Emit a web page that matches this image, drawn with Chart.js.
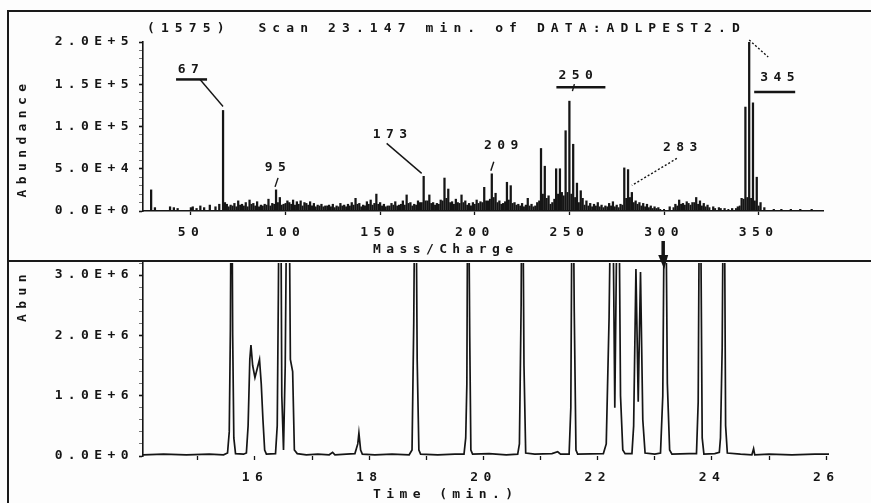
<!DOCTYPE html>
<html>
<head>
<meta charset="utf-8">
<script src="https://cdn.jsdelivr.net/npm/chart.js@4.4.1/dist/chart.umd.min.js"></script>
<style>
  html, body { margin: 0; padding: 0; background: #fff; }
  #page { position: relative; width: 871px; height: 503px; overflow: hidden; background: #fdfdfd; }
  .rule { position: absolute; background: #1a1a1a; }
  canvas { position: absolute; left: 0; }
</style>
</head>
<body>
<div id="page">
  <div class="rule" style="left:7px; top:10px; width:864px; height:2px"></div>
  <div class="rule" style="left:7px; top:10px; width:2px; height:493px"></div>
  <div class="rule" style="left:7px; top:260px; width:864px; height:2px"></div>
  <canvas id="spectrum" style="top:0" width="871" height="262"></canvas>
  <canvas id="tic" style="top:240px" width="871" height="263"></canvas>
</div>
<script>
// scan header
const scanNumber = 1575;
const scanTime = 23.147;
const dataFile = 'DATA:ADLPEST2.D';

// mass spectrum of the scan (m/z, abundance)
const massCharge = [
  29, 31, 39, 41, 43, 50, 51, 53, 55, 57, 60, 63, 65,
  67, 68, 69, 71, 73, 75, 77, 79, 81, 83, 85, 87, 89, 91, 93, 95, 97, 99,
  101, 102, 104, 106, 108, 110, 111, 113, 115, 117, 119, 121, 123, 125, 127, 129,
  131, 133, 135, 137, 139, 141, 143, 145, 147, 148, 150, 152, 154, 156, 158, 160,
  162, 164, 166, 168, 170, 171, 173, 175, 176, 178, 180, 182, 184, 186, 188, 190,
  191, 193, 195, 197, 199, 201, 203, 205, 207, 209, 211, 213, 215, 217, 219, 221,
  223, 225, 227, 228, 230, 232, 233, 235, 237, 239, 241, 243, 245, 246, 248, 250,
  252, 254, 256, 257, 259, 261, 263, 265, 267, 269, 271, 273, 275, 277, 279, 281,
  283, 285, 287, 289, 291, 293, 295, 297, 303, 306, 308, 310, 312, 315, 317, 319,
  321, 323, 326, 329, 332, 336, 339, 341, 343, 345, 347, 349, 351, 353, 358, 362,
  367, 372, 378
];
const abundance = [
  25000, 4000, 5000, 4000, 3000, 4000, 5000, 3000, 6000, 4000, 7000, 5000, 8000,
  119000, 10000, 8000, 7000, 9000, 12000, 8000, 10000, 13000, 9000, 11000, 7000, 8000, 14000, 9000, 25000, 16000, 8000,
  12000, 10000, 13000, 11000, 12000, 10000, 9000, 11000, 9000, 7000, 8000, 6000, 7000, 8000, 6000, 9000,
  7000, 8000, 10000, 15000, 9000, 7000, 11000, 13000, 9000, 20000, 10000, 8000, 6000, 9000, 11000, 7000,
  12000, 19000, 10000, 8000, 12000, 10000, 41000, 12000, 19000, 10000, 9000, 13000, 39000, 26000, 11000, 14000,
  10000, 19000, 12000, 9000, 10000, 13000, 11000, 28000, 12000, 44000, 21000, 12000, 9000, 34000, 30000, 10000,
  8000, 9000, 7000, 15000, 8000, 6000, 10000, 74000, 53000, 18000, 10000, 50000, 50000, 22000, 95000, 130000,
  79000, 33000, 24000, 15000, 12000, 9000, 8000, 10000, 7000, 6000, 9000, 11000, 7000, 8000, 51000, 49000,
  22000, 12000, 10000, 9000, 8000, 6000, 5000, 4000, 5000, 8000, 13000, 9000, 11000, 10000, 16000, 12000,
  9000, 7000, 5000, 4000, 3000, 3000, 5000, 15000, 123000, 200000, 128000, 40000, 10000, 4000, 2000, 2000,
  2000, 2000, 2000
];
// small ions between the main ones (the "grass" along the baseline)
const minorMass = [
  70, 72, 74, 76, 78, 80, 82, 84, 86, 88, 90, 92, 94, 96, 98, 100, 103, 105, 107, 109,
  112, 114, 116, 118, 120, 122, 124, 126, 128, 130, 132, 134, 136, 138, 140, 142, 144, 146,
  149, 151, 153, 155, 157, 159, 161, 163, 165, 167, 169, 172, 174, 177, 179, 181, 183, 185,
  187, 189, 192, 194, 196, 198, 200, 202, 204, 206, 208, 210, 212, 214, 216, 218, 220, 222,
  224, 226, 229, 231, 234, 236, 238, 240, 242, 244, 247, 249, 251, 253, 255, 258, 260, 262,
  264, 266, 268, 270, 272, 274, 276, 278, 280, 282, 284, 286, 288, 290, 292, 294, 296, 298,
  300, 305, 307, 309, 311, 313, 314, 316, 318, 320, 322, 324, 327, 330, 334, 338, 340, 342,
  344, 346, 348, 350
];
const minorAbundance = [
  5000, 6000, 5000, 7000, 6000, 5000, 8000, 6000, 5000, 6000, 7000, 6000, 8000, 10000, 7000, 9000, 8000, 7000, 8000, 6000,
  7000, 6000, 5000, 6000, 5000, 6000, 5000, 4000, 5000, 6000, 5000, 6000, 7000, 8000, 5000, 6000, 8000, 7000,
  8000, 6000, 5000, 6000, 7000, 6000, 8000, 7000, 9000, 6000, 7000, 10000, 12000, 9000, 7000, 8000, 12000, 15000,
  10000, 8000, 9000, 10000, 7000, 6000, 8000, 9000, 10000, 12000, 14000, 16000, 10000, 8000, 11000, 13000, 9000, 7000,
  6000, 5000, 6000, 5000, 12000, 20000, 15000, 8000, 14000, 20000, 18000, 22000, 20000, 16000, 10000, 7000, 6000, 5000,
  6000, 5000, 4000, 5000, 6000, 5000, 4000, 7000, 15000, 16000, 10000, 8000, 6000, 5000, 4000, 3000, 3000, 2000,
  2000, 4000, 6000, 8000, 7000, 9000, 7000, 10000, 8000, 6000, 5000, 4000, 3000, 3000, 2000, 3000, 6000, 14000,
  16000, 15000, 12000, 6000
];
const massTicks = [50, 100, 150, 200, 250, 300, 350];
const abundanceTicks = [0, 50000, 100000, 150000, 200000];
const labelledIons = [67, 95, 173, 209, 250, 283, 345];

// total ion chromatogram (min, abundance)
const retentionTime = [
  14.04, 14.4, 14.8, 15.2, 15.45,
  15.52, 15.55, 15.57, 15.59, 15.61, 15.63, 15.66,
  15.8, 15.85, 15.88, 15.91, 15.93, 15.96, 16.0, 16.04, 16.08, 16.11, 16.14, 16.17, 16.2,
  16.36, 16.39, 16.41, 16.44, 16.47, 16.5, 16.53, 16.58, 16.62, 16.66, 16.69, 16.74,
  16.9, 17.1, 17.3, 17.36, 17.4, 17.6,
  17.75, 17.8, 17.82, 17.85, 17.88,
  18.1, 18.4, 18.7, 18.75, 18.78, 18.81, 18.84, 18.87, 18.9,
  19.2, 19.5, 19.66, 19.69, 19.71, 19.73, 19.76, 19.78, 19.81,
  20.1, 20.4, 20.6, 20.63, 20.66, 20.68, 20.71, 20.74,
  20.9, 21.2, 21.3, 21.35, 21.5, 21.53, 21.56, 21.59, 21.62, 21.65,
  22.1, 22.15, 22.2, 22.25, 22.3, 22.36, 22.4, 22.44, 22.48,
  22.6, 22.63, 22.67, 22.71, 22.75, 22.79, 22.83,
  23.0, 23.1, 23.14, 23.18, 23.22, 23.26, 23.3,
  23.6, 23.73, 23.76, 23.79, 23.83, 23.86,
  24.05, 24.13, 24.15, 24.18, 24.21, 24.24, 24.27,
  24.5, 24.7, 24.73, 24.75, 25.0, 25.4, 25.8, 26.05
];
const totalIon = [
  20000, 30000, 20000, 30000, 20000,
  50000, 400000, 2100000, 6000000, 2000000, 300000, 40000,
  30000, 50000, 500000, 1600000, 1840000, 1500000, 1300000, 1450000, 1600000, 1200000, 600000, 100000, 30000,
  40000, 500000, 2700000, 7000000, 1000000, 100000, 1500000, 7000000, 1600000, 1400000, 100000, 40000,
  20000, 30000, 20000, 60000, 20000, 30000,
  40000, 200000, 380000, 100000, 30000,
  20000, 30000, 20000, 100000, 2200000, 6000000, 1600000, 100000, 30000,
  20000, 30000, 30000, 300000, 1200000, 6000000, 2000000, 100000, 30000,
  40000, 20000, 30000, 200000, 2500000, 6000000, 1500000, 50000,
  30000, 40000, 70000, 30000, 30000, 800000, 6000000, 2400000, 100000, 30000,
  40000, 200000, 2300000, 6000000, 800000, 6000000, 1000000, 100000, 40000,
  40000, 500000, 3100000, 900000, 3050000, 600000, 50000,
  30000, 50000, 1000000, 6000000, 1200000, 100000, 30000,
  40000, 40000, 900000, 6000000, 300000, 30000,
  40000, 60000, 300000, 1800000, 6000000, 500000, 50000,
  30000, 20000, 120000, 20000, 30000, 20000, 30000, 30000
];
const timeTicks = [16, 18, 20, 22, 24, 26];
const ticTicks = [0, 1000000, 2000000, 3000000];

// where each ion label sits, relative to the top of its peak (pixels)
const ionNoteLayout = {
  67:  { dx: -35, dy: -41, bar: [-12, 19, 10], lead: [-23, -31, 0, -4] },
  95:  { dx: -1, dy: -22, lead: [2, -12, -1, -3] },
  173: { dx: -34, dy: -42, lead: [-37, -33, -2, -3] },
  209: { dx: 9, dy: -28, lead: [2, -12, -1, -3] },
  250: { dx: 6, dy: -26, bar: [-19, 30, 12], lead: [5, -17, 3, -10] },
  283: { dx: 48, dy: -45, lead: [45, -34, 0, -7], dotted: true },
  345: { dx: 28, dy: 36, bar: [-23, 18, 14], lead: [0, -2, 19, 15], dotted: true }
};

const INK = '#151515';
const SPACING = '5.4px';
const FONT = "bold 13px 'DejaVu Sans Mono', monospace";

Chart.defaults.font.family = "'DejaVu Sans Mono', monospace";
Chart.defaults.font.size = 13;
Chart.defaults.font.weight = 'bold';
Chart.defaults.color = INK;
Chart.defaults.animation = false;

function sciLabel(v) {
  return v.toExponential(1).toUpperCase();
}

function steps(from, to, step) {
  const out = [];
  const n = Math.round((to - from) / step);
  for (let k = 0; k <= n; k++) out.push(from + k * step);
  return out;
}

// plotter-style wide lettering for every text on the canvas
const wideText = {
  id: 'wideText',
  beforeLayout(chart) { chart.ctx.letterSpacing = SPACING; },
  beforeDraw(chart) { chart.ctx.letterSpacing = SPACING; }
};

function put(ctx, text, x, y, align, rotate, spacing) {
  ctx.save();
  ctx.font = FONT;
  ctx.fillStyle = INK;
  ctx.textBaseline = 'middle';
  ctx.textAlign = align || 'left';
  if (spacing) ctx.letterSpacing = spacing;
  ctx.translate(x, y);
  if (rotate) ctx.rotate(-Math.PI / 2);
  ctx.fillText(text, 0, 0);
  ctx.restore();
}

function line(ctx, x1, y1, x2, y2, width, dotted) {
  ctx.save();
  ctx.strokeStyle = INK;
  ctx.lineWidth = width;
  if (dotted) ctx.setLineDash([2, 2]);
  ctx.beginPath();
  ctx.moveTo(x1, y1);
  ctx.lineTo(x2, y2);
  ctx.stroke();
  ctx.restore();
}

const spectrumNotes = {
  id: 'spectrumNotes',
  afterDraw(chart) {
    const ctx = chart.ctx;
    const x = chart.scales.x, y = chart.scales.y;
    put(ctx, '(' + scanNumber + ')  Scan ' + scanTime + ' min. of ' + dataFile, 147, 29, 'left', false, '6.1px');
    put(ctx, 'Abundance', 23, 138, 'center', true);
    put(ctx, 'Mass/Charge', 373, 250);
    labelledIons.forEach(ion => {
      const lay = ionNoteLayout[ion];
      const px = x.getPixelForValue(ion);
      const py = y.getPixelForValue(abundance[massCharge.indexOf(ion)]);
      const lx = px + lay.dx, ly = py + lay.dy;
      put(ctx, String(ion), lx + 3, ly, 'center');
      if (lay.bar) line(ctx, lx + lay.bar[0], ly + lay.bar[2], lx + lay.bar[1], ly + lay.bar[2], 2.5);
      const l = lay.lead;
      line(ctx, px + l[0], py + l[1], px + l[2], py + l[3], 1.4, lay.dotted);
    });
  }
};

const ticNotes = {
  id: 'ticNotes',
  afterDraw(chart) {
    const ctx = chart.ctx;
    put(ctx, 'Abun', 23, 82, 'left', true);
    put(ctx, 'Time (min.)', 373, 255);
    // marker for the scan shown above
    const sx = chart.scales.x.getPixelForValue(scanTime);
    const top = chart.chartArea.top;
    line(ctx, sx, top - 22, sx, top - 6, 3.5);
    ctx.save();
    ctx.fillStyle = INK;
    ctx.beginPath();
    ctx.moveTo(sx - 5, top - 8);
    ctx.lineTo(sx + 5, top - 8);
    ctx.lineTo(sx + 1, top + 6);
    ctx.closePath();
    ctx.fill();
    ctx.restore();
  }
};

new Chart(document.getElementById('spectrum'), {
  type: 'bar',
  data: {
    datasets: [{
      data: massCharge.map((m, i) => ({ x: m, y: abundance[i] })),
      backgroundColor: INK,
      borderWidth: 0,
      barThickness: 1.6
    }, {
      data: minorMass.map((m, i) => ({ x: m, y: minorAbundance[i] })),
      backgroundColor: INK,
      borderWidth: 0,
      barThickness: 1.3
    }]
  },
  options: {
    responsive: false,
    layout: { padding: { left: 0, right: 48, top: 42, bottom: 0 } },
    plugins: { legend: { display: false }, tooltip: { enabled: false } },
    datasets: { bar: { grouped: false } },
    scales: {
      x: {
        type: 'linear', min: 24.7, max: 384, offset: false,
        afterBuildTicks: s => { s.ticks = massTicks.map(v => ({ value: v })); },
        afterFit: s => { s.height = 51; },
        grid: { drawOnChartArea: false, offset: false, tickLength: 4, color: INK, tickWidth: 1.3 },
        border: { display: true, color: INK, width: 1.6 },
        ticks: { padding: 10, maxRotation: 0, autoSkip: false }
      },
      y: {
        min: 0, max: 200000,
        afterBuildTicks: s => { s.ticks = steps(0, 200000, 10000).map(v => ({ value: v })); },
        afterFit: s => { s.width = 143; },
        grid: {
          drawOnChartArea: false, tickLength: 4,
          tickColor: c => (c.tick && abundanceTicks.includes(c.tick.value)) ? INK : '#777',
          tickWidth: c => (c.tick && abundanceTicks.includes(c.tick.value)) ? 1.6 : 1
        },
        border: { display: true, color: INK, width: 1.6 },
        ticks: {
          padding: 5, autoSkip: false,
          callback: v => abundanceTicks.includes(v) ? sciLabel(v) : ''
        }
      }
    }
  },
  plugins: [wideText, spectrumNotes]
});

new Chart(document.getElementById('tic'), {
  type: 'line',
  data: {
    datasets: [{
      data: retentionTime.map((t, i) => ({ x: t, y: totalIon[i] })),
      borderColor: INK,
      borderWidth: 1.7,
      pointRadius: 0,
      tension: 0,
      fill: false
    }]
  },
  options: {
    responsive: false,
    layout: { padding: { left: 0, right: 42, top: 23, bottom: 0 } },
    plugins: { legend: { display: false }, tooltip: { enabled: false } },
    scales: {
      x: {
        type: 'linear', min: 14.04, max: 26.05,
        afterBuildTicks: s => { s.ticks = steps(15, 26, 1).map(v => ({ value: v })); },
        afterFit: s => { s.height = 47; },
        grid: { drawOnChartArea: false, tickLength: 4, color: INK, tickWidth: 1.3 },
        border: { display: false },
        ticks: {
          padding: 10, maxRotation: 0, autoSkip: false,
          callback: v => timeTicks.includes(v) ? String(v) : ''
        }
      },
      y: {
        min: 0, max: 3200000,
        afterBuildTicks: s => { s.ticks = steps(0, 3200000, 200000).map(v => ({ value: v })); },
        afterFit: s => { s.width = 143; },
        grid: {
          drawOnChartArea: false, tickLength: 4,
          tickColor: c => (c.tick && ticTicks.includes(c.tick.value)) ? INK : '#777',
          tickWidth: c => (c.tick && ticTicks.includes(c.tick.value)) ? 1.6 : 1
        },
        border: { display: true, color: INK, width: 1.6 },
        ticks: {
          padding: 5, autoSkip: false,
          callback: v => ticTicks.includes(v) ? sciLabel(v) : ''
        }
      }
    }
  },
  plugins: [wideText, ticNotes]
});
</script>
</body>
</html>
